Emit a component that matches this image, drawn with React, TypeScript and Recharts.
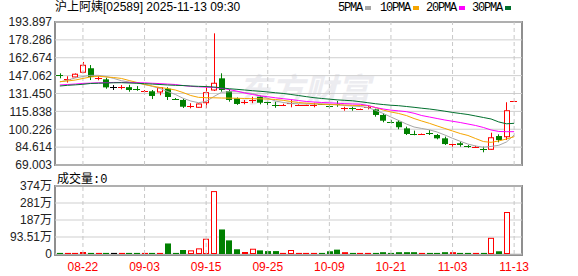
import React from 'react';
import {
  ComposedChart,
  BarChart,
  Bar,
  Line,
  XAxis,
  YAxis,
  CartesianGrid,
  ReferenceLine,
} from 'recharts';

// trading days shown on the chart
const dates = [
  '08-19', '08-20', '08-21', '08-22', '08-25', '08-26', '08-27', '08-28', '08-29',
  '09-01', '09-02', '09-03', '09-04', '09-05', '09-08', '09-09', '09-10', '09-11', '09-12',
  '09-15', '09-16', '09-17', '09-18', '09-19', '09-22', '09-23', '09-24', '09-25', '09-26',
  '09-29', '09-30', '10-02', '10-03', '10-06', '10-08', '10-09', '10-10', '10-13', '10-14',
  '10-15', '10-16', '10-17', '10-20', '10-21', '10-22', '10-23', '10-24', '10-27', '10-28',
  '10-30', '10-31', '11-03', '11-04', '11-05', '11-06', '11-07', '11-10', '11-11', '11-12',
  '11-13',
];
const labelDates = ['08-22', '09-03', '09-15', '09-25', '10-09', '10-21', '11-03', '11-13'];

const opens = [
  147.3, 143.5, 145.9, 150.0, 153.5, 144.6, 143.8, 136.8, 136.8, 137.0,
  135.3, 133.0, 133.4, 132.8, 135.6, 127.0, 125.8, 120.0, 119.4, 123.4,
  134.5, 144.7, 133.6, 127.2, 123.5, 125.5, 128.6, 124.2, 121.6, 121.0,
  122.5, 121.2, 120.9, 121.1, 122.2, 120.8, 122.6, 118.3, 118.7, 117.7,
  119.7, 117.6, 112.7, 106.6, 106.8, 101.0, 96.3, 95.8, 97.0, 95.2,
  92.3, 87.0, 88.0, 85.3, 84.9, 83.3, 82.7, 94.3, 93.7, 124.9,
];
const highs = [
  149.1, 146.5, 149.0, 159.0, 156.3, 146.5, 145.3, 138.8, 138.8, 139.0,
  137.9, 134.5, 134.5, 137.0, 136.9, 127.5, 126.9, 123.0, 122.8, 138.6,
  184.0, 149.1, 135.1, 128.0, 125.8, 128.6, 129.6, 124.5, 124.3, 122.5,
  125.8, 122.0, 121.6, 123.4, 122.4, 122.3, 124.9, 119.9, 119.9, 118.3,
  121.4, 118.2, 114.2, 108.3, 108.3, 102.5, 99.0, 96.5, 99.5, 96.1,
  93.8, 89.3, 89.5, 86.5, 85.8, 85.0, 97.2, 95.8, 123.8, 124.9,
];
const lows = [
  144.7, 141.0, 145.5, 149.6, 143.2, 143.0, 135.6, 134.5, 135.1, 133.0,
  133.8, 132.0, 126.6, 129.9, 125.8, 126.0, 118.8, 118.5, 119.0, 118.8,
  133.6, 133.0, 124.3, 121.5, 122.0, 123.0, 122.0, 121.5, 119.0, 120.5,
  119.4, 120.8, 120.6, 119.4, 121.6, 118.5, 119.9, 116.4, 116.4, 117.4,
  117.6, 111.2, 106.3, 105.4, 100.2, 95.2, 95.0, 95.5, 95.2, 91.4,
  86.5, 85.0, 85.0, 84.0, 84.0, 80.1, 82.3, 88.8, 90.8, 124.9,
];
const closes = [
  146.9, 144.0, 148.3, 156.1, 145.9, 145.2, 136.8, 136.8, 137.3, 134.5,
  134.7, 133.4, 129.3, 136.5, 128.4, 126.5, 119.9, 120.5, 122.3, 132.2,
  140.4, 134.5, 125.8, 122.3, 123.9, 126.0, 123.4, 123.6, 121.2, 121.5,
  123.2, 121.6, 121.2, 121.5, 121.9, 120.3, 122.1, 118.7, 118.3, 118.0,
  120.0, 112.7, 107.7, 106.1, 102.0, 96.1, 95.9, 96.2, 96.5, 92.3,
  87.3, 87.4, 86.5, 84.8, 85.1, 82.8, 92.8, 90.8, 116.4, 124.9,
];
// volume in 万 shares
const volumes = [
  6, 6, 6, 11, 6, 6, 6, 6, 6, 6,
  6, 6, 6, 6, 58, 6, 22, 20, 31, 84,
  346, 135, 75, 26, 11, 29, 20, 16, 16, 6,
  22, 6, 6, 6, 6, 15, 24, 10, 6, 6,
  6, 6, 10, 6, 10, 10, 10, 6, 6, 6,
  10, 10, 6, 6, 6, 6, 89, 15, 231, 0,
];
const ma5 = [
  141.5, 143.2, 145.0, 146.3, 147.3, 147.3, 146.3, 144.6, 142.6, 141.5,
  140.6, 139.3, 137.7, 135.8, 133.2, 130.6, 127.3, 124.9, 123.4, 124.5,
  128.8, 132.5, 133.0, 133.0, 132.3, 131.5, 129.3, 127.3, 124.9, 123.6,
  122.7, 122.5, 122.3, 122.3, 122.3, 122.1, 121.7, 121.0, 120.5, 120.1,
  119.2, 116.8, 114.0, 110.9, 107.9, 104.8, 102.2, 100.9, 99.7, 97.8,
  95.2, 92.3, 89.7, 87.3, 85.6, 84.5, 85.2, 86.2, 89.1, 95.2,
];
const ma10 = [
  141.8, 142.4, 143.2, 144.6, 145.9, 146.5, 145.9, 145.4, 144.6, 142.8,
  141.1, 139.3, 138.0, 136.7, 135.8, 134.5, 132.3, 129.7, 128.1, 127.8,
  127.7, 127.5, 127.4, 127.3, 127.1, 126.9, 126.8, 126.6, 126.2, 125.5,
  124.5, 123.6, 123.0, 122.5, 122.1, 121.8, 121.6, 121.4, 121.1, 121.0,
  120.8, 119.2, 117.0, 115.3, 114.0, 112.2, 109.6, 107.4, 105.4, 103.1,
  100.9, 98.7, 96.5, 94.8, 92.1, 89.5, 88.8, 90.0, 91.7, 93.7,
];
const ma20 = [
  138.9, 139.3, 139.7, 140.3, 140.5, 140.8, 140.9, 141.1, 141.1, 141.1,
  140.9, 140.8, 140.4, 140.1, 139.7, 139.3, 138.4, 137.7, 137.3, 137.0,
  136.7, 136.0, 134.9, 133.5, 131.9, 130.6, 129.4, 128.6, 127.7, 126.9,
  126.2, 125.3, 124.5, 124.0, 123.6, 123.3, 123.0, 122.6, 122.3, 122.1,
  121.0, 119.2, 117.9, 116.9, 116.3, 115.6, 114.2, 112.2, 110.9, 109.6,
  108.3, 107.2, 106.1, 104.8, 103.5, 101.8, 99.6, 98.3, 98.1, 98.1,
];
const ma30 = [
  138.0, 138.6, 139.0, 139.5, 140.2, 140.4, 140.6, 140.8, 140.9, 140.6,
  140.4, 140.0, 139.7, 139.3, 138.9, 138.6, 138.4, 138.0, 137.7, 137.5,
  137.1, 136.4, 135.6, 135.1, 134.5, 133.9, 133.4, 132.8, 132.1, 131.5,
  130.6, 129.7, 128.7, 127.8, 127.1, 126.5, 125.9, 125.5, 125.1, 124.3,
  123.4, 122.5, 121.8, 121.2, 120.8, 120.1, 119.4, 118.6, 117.9, 117.0,
  116.0, 114.9, 114.0, 113.1, 111.8, 110.5, 109.2, 106.6, 105.0, 105.4,
];

const priceTicks = [69.003, 84.614, 100.226, 115.838, 131.45, 147.062, 162.674, 178.286, 193.897];
const volTicks = [0, 93.51, 187.02, 280.53, 374.04];
const volTickLabels = ['0', '93.51万', '187万', '281万', '374万'];

const UP = '#ff0000';
const DOWN = '#008000';
const FLAT = '#000000';
const maColors = { ma5: '#a6a6a6', ma10: '#f5a500', ma20: '#ff00ff', ma30: '#006f2e' };
const maNames = [
  { key: 'ma5', label: '5PMA' },
  { key: 'ma10', label: '10PMA' },
  { key: 'ma20', label: '20PMA' },
  { key: 'ma30', label: '30PMA' },
];

const data = dates.map((date, i) => {
  const prev = i > 0 ? closes[i - 1] : closes[i];
  let color = FLAT;
  if (closes[i] > opens[i]) color = UP;
  else if (closes[i] < opens[i]) color = DOWN;
  else if (closes[i] > prev) color = UP;
  else if (closes[i] < prev) color = DOWN;
  return {
    date,
    open: opens[i],
    high: highs[i],
    low: lows[i],
    close: closes[i],
    range: [lows[i], highs[i]],
    vol: volumes[i],
    ma5: ma5[i],
    ma10: ma10[i],
    ma20: ma20[i],
    ma30: ma30[i],
    color,
    hollow: closes[i] > opens[i],
  };
});

const Candle = (props: any) => {
  const { x, y, width, height, payload } = props;
  if (x == null || y == null) return <g />;
  const { open, close, high, low, color, hollow } = payload;
  const top = Math.min(y, y + height);
  const h = Math.abs(height);
  const span = high - low;
  const toY = (v: number) => (span === 0 ? top : top + ((high - v) / span) * h);
  const cx = Math.round(x + width / 2) + 0.5;
  const yo = toY(open);
  const yc = toY(close);
  const bTop = Math.min(yo, yc);
  const bBot = Math.max(yo, yc);
  const left = Math.round(x);
  return (
    <g>
      {h > 0 && <line x1={cx} x2={cx} y1={top} y2={top + h} stroke={color} strokeWidth={1} />}
      {bBot - bTop < 1.2 ? (
        <line
          x1={left - 1}
          x2={left + width + 1}
          y1={Math.round(bTop) + 0.5}
          y2={Math.round(bTop) + 0.5}
          stroke={color}
          strokeWidth={1}
        />
      ) : hollow ? (
        <rect x={left + 0.5} y={bTop} width={width} height={bBot - bTop} fill="#fff" stroke={color} strokeWidth={1} />
      ) : (
        <rect x={left} y={bTop} width={width + 1} height={bBot - bTop} fill={color} />
      )}
    </g>
  );
};

const VolBar = (props: any) => {
  const { x, y, width, height, payload } = props;
  if (!height || height <= 0) return <g />;
  const left = Math.round(x);
  if (payload.hollow && height > 2) {
    return (
      <rect x={left + 0.5} y={y + 0.5} width={width} height={height - 1} fill="#fff" stroke={payload.color} strokeWidth={1} />
    );
  }
  return <rect x={left} y={y} width={width + 1} height={height} fill={payload.color} />;
};

const DateTick = (props: any) => {
  const { x, y, payload } = props;
  if (!labelDates.includes(payload.value)) return <g />;
  return (
    <text x={x} y={y + 9} textAnchor="middle" fill="#ff0000" fontSize={12} fontFamily="'Liberation Sans', Arial, sans-serif">
      {payload.value}
    </text>
  );
};

const axisFont = "'Liberation Sans', Arial, 'Noto Sans CJK SC', sans-serif";
const monoFont = "'Liberation Mono', 'Noto Sans CJK SC', monospace";
const legendLefts = [338, 380, 426, 472];

export default function App() {
  return (
    <div style={{ position: 'absolute', left: 0, top: 0, width: 578, height: 276, background: '#fff', overflow: 'hidden' }}>
      {/* panel frames, drawn first so the marks sit on top */}
      <div style={{ position: 'absolute', left: 54, top: 21, width: 469, height: 145, border: '2px solid #8f8f8f', boxSizing: 'border-box' }} />
      <div style={{ position: 'absolute', left: 54, top: 185, width: 469, height: 71, border: '2px solid #8f8f8f', boxSizing: 'border-box' }} />

      {/* watermark */}
      <div
        style={{
          position: 'absolute',
          left: 238,
          top: 68,
          fontSize: 33,
          fontWeight: 'bold',
          fontStyle: 'italic',
          color: '#ececf0',
          fontFamily: "'Noto Sans CJK SC', sans-serif",
          lineHeight: '40px',
        }}
      >
        东方财富
      </div>

      <div
        style={{
          position: 'absolute',
          left: 55,
          top: 0,
          fontSize: 12,
          lineHeight: '14px',
          color: '#000',
          fontFamily: "'Liberation Sans', Arial, 'Noto Sans CJK SC', sans-serif",
          whiteSpace: 'nowrap',
        }}
      >
        沪上阿姨[02589] 2025-11-13 09:30
      </div>

      {maNames.map((m, i) => (
        <div
          key={m.key}
          style={{
            position: 'absolute',
            left: legendLefts[i],
            top: 1,
            display: 'flex',
            alignItems: 'center',
            fontSize: 12,
            lineHeight: '14px',
            letterSpacing: '-1.2px',
            fontFamily: monoFont,
            color: '#000',
            whiteSpace: 'nowrap',
          }}
        >
          <span>{m.label}</span>
          <span style={{ display: 'inline-block', width: 6, height: 4, marginLeft: 3, background: (maColors as any)[m.key] }} />
        </div>
      ))}

      <div
        style={{
          position: 'absolute',
          left: 57,
          top: 171,
          fontSize: 12,
          lineHeight: '14px',
          fontFamily: "'Noto Sans CJK SC', sans-serif",
          color: '#000',
          whiteSpace: 'nowrap',
        }}
      >
        成交量<span style={{ fontFamily: monoFont }}>:0</span>
      </div>

      <div style={{ position: 'absolute', left: 0, top: 0 }}>
        <ComposedChart width={578} height={180} data={data} margin={{ top: 22, right: 56, left: 0, bottom: 15 }}>
          <CartesianGrid vertical={false} stroke="#cfcfcf" />
          <XAxis dataKey="date" hide padding={{ left: 1, right: 4 }} />
          <YAxis
            domain={[69.003, 193.897]}
            ticks={priceTicks}
            width={55}
            tickLine={false}
            axisLine={false}
            tickSize={0}
            tickMargin={3}
            interval={0}
            tick={{ fill: '#222', fontSize: 12, fontFamily: axisFont }}
            tickFormatter={(v: number) => v.toFixed(3)}
            allowDataOverflow
          />
          {labelDates.map((d) => (
            <ReferenceLine key={d} x={d} stroke="#c8c8c8" strokeDasharray="4 3" />
          ))}
          <Bar dataKey="range" barSize={5} shape={Candle} isAnimationActive={false} />
          {maNames.map((m) => (
            <Line
              key={m.key}
              dataKey={m.key}
              type="linear"
              stroke={(maColors as any)[m.key]}
              strokeWidth={1}
              dot={false}
              activeDot={false}
              isAnimationActive={false}
            />
          ))}
        </ComposedChart>
      </div>

      <div style={{ position: 'absolute', left: 0, top: 0 }}>
        <BarChart width={578} height={282} data={data} margin={{ top: 186, right: 56, left: 0, bottom: 7 }}>
          <CartesianGrid vertical={false} stroke="#cfcfcf" />
          <XAxis
            dataKey="date"
            interval={0}
            height={21}
            tickLine={false}
            axisLine={false}
            padding={{ left: 1, right: 4 }}
            tick={DateTick}
          />
          <YAxis
            domain={[0, 374.04]}
            ticks={volTicks}
            width={55}
            tickLine={false}
            axisLine={false}
            tickSize={0}
            tickMargin={3}
            interval={0}
            tick={{ fill: '#222', fontSize: 12, fontFamily: axisFont }}
            tickFormatter={(v: number, i: number) => volTickLabels[i]}
          />
          {labelDates.map((d) => (
            <ReferenceLine key={d} x={d} stroke="#c8c8c8" strokeDasharray="4 3" />
          ))}
          <Bar dataKey="vol" barSize={5} shape={VolBar} isAnimationActive={false} />
        </BarChart>
      </div>
    </div>
  );
}
